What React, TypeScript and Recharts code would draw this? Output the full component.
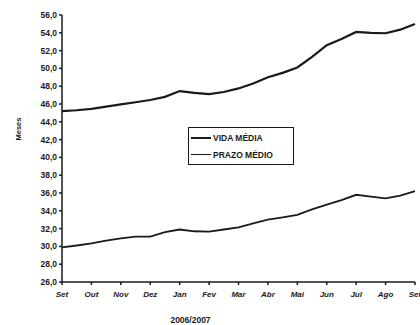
import { LineChart, Line, XAxis, YAxis } from "recharts";

// month labels (Sep 2006 .. Sep 2007)
const months = ["Set", "Out", "Nov", "Dez", "Jan", "Fev", "Mar", "Abr", "Mai", "Jun", "Jul", "Ago", "Set"];

// readings every half month, from Set/2006 to Set/2007
const vidaMedia = [
  45.2, 45.3, 45.45, 45.7, 45.95, 46.2, 46.45, 46.8, 47.45, 47.25, 47.1, 47.35, 47.75,
  48.3, 49.0, 49.5, 50.1, 51.3, 52.6, 53.3, 54.1, 54.0, 53.95, 54.35, 55.0,
];
const prazoMedio = [
  29.9, 30.1, 30.35, 30.65, 30.9, 31.1, 31.1, 31.6, 31.9, 31.7, 31.65, 31.9, 32.15,
  32.6, 33.0, 33.25, 33.55, 34.15, 34.7, 35.2, 35.8, 35.6, 35.4, 35.7, 36.2,
];

const yTicks = [26, 28, 30, 32, 34, 36, 38, 40, 42, 44, 46, 48, 50, 52, 54, 56];

const data = vidaMedia.map((v, i) => ({ t: i / 2, vida: v, prazo: prazoMedio[i] }));

const font = "'Liberation Sans', Arial, sans-serif";
const ink = "#1a1a1a";

function LegendBox() {
  const row = (label: string, w: number) => (
    <div style={{ display: "flex", alignItems: "center", height: 17 }}>
      <div style={{ width: 20, height: w, background: ink, marginRight: 2 }} />
      <span>{label}</span>
    </div>
  );
  return (
    <div
      style={{
        position: "absolute",
        left: 188,
        top: 127,
        border: `1px solid ${ink}`,
        padding: "1px 4px 1px 2px",
        fontFamily: font,
        fontSize: 8.5,
        fontWeight: 600,
        color: ink,
        width: 98,
        background: "#fff",
      }}
    >
      {row("VIDA MÉDIA", 2)}
      {row("PRAZO MÉDIO", 1.5)}
    </div>
  );
}

export default function App() {
  return (
    <div style={{ position: "absolute", left: 0, top: 0, width: 420, height: 325, background: "#fff" }}>
      <LineChart width={420} height={325} data={data} margin={{ top: 15, right: 5, bottom: 0, left: 0 }}>
        <XAxis
          dataKey="t"
          type="number"
          domain={[0, 12]}
          ticks={months.map((_, i) => i)}
          tickFormatter={(i: number) => months[i]}
          interval={0}
          height={43}
          stroke={ink}
          strokeWidth={1.5}
          tickSize={3}
          tick={{ fontSize: 8, fill: ink, fontFamily: font, fontWeight: 600, fontStyle: "italic" }}
          tickMargin={6}
          label={{ value: "2006/2007", position: "insideBottom", offset: 2, dx: -48, fontSize: 8.5, fill: ink, fontFamily: font, fontWeight: 700 }}
        />
        <YAxis
          type="number"
          domain={[26, 56]}
          ticks={yTicks}
          interval={0}
          width={62}
          stroke={ink}
          strokeWidth={1.5}
          tickSize={3}
          tickFormatter={(v: number) => v.toFixed(1).replace(".", ",")}
          tick={{ fontSize: 8.5, fill: ink, fontFamily: font, fontWeight: 600 }}
          label={{ value: "Meses", angle: -90, position: "insideLeft", offset: 18, dy: -8, fontSize: 7.5, fill: ink, fontFamily: font, fontWeight: 600 }}
        />
        <Line type="linear" dataKey="vida" name="VIDA MÉDIA" stroke={ink} strokeWidth={2.2} dot={false} isAnimationActive={false} />
        <Line type="linear" dataKey="prazo" name="PRAZO MÉDIO" stroke={ink} strokeWidth={1.8} dot={false} isAnimationActive={false} />
      </LineChart>
      <LegendBox />
    </div>
  );
}
